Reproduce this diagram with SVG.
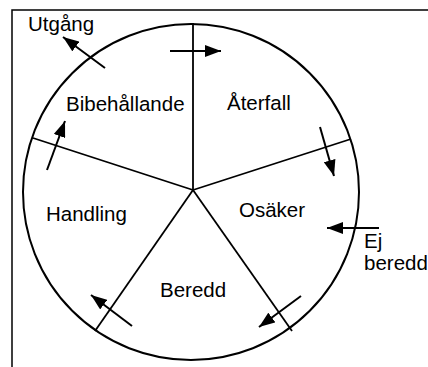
<svg xmlns="http://www.w3.org/2000/svg" width="428" height="367" viewBox="0 0 428 367">
<style>
.t{font-family:"Liberation Sans",Arial,sans-serif;font-size:20.5px;fill:#000}
.a{stroke:#000;stroke-width:2;fill:none;marker-end:url(#ah)}
.s{stroke:#000;stroke-width:1.8;fill:none}
</style>
<defs>
<marker id="ah" markerUnits="userSpaceOnUse" markerWidth="18" markerHeight="12" refX="16" refY="6" orient="auto">
<path d="M0,0 L16,6 L0,12 Z" fill="#000"/>
</marker>
</defs>
<rect x="0" y="0" width="428" height="367" fill="#fff"/>
<rect x="12" y="10" width="440" height="380" fill="none" stroke="#000" stroke-width="1.5"/>
<g id="wheel">
<circle cx="191" cy="192" r="168" fill="none" stroke="#000" stroke-width="2"/>
</g>
<g id="spokes">
<line class="s" x1="193" y1="190" x2="193" y2="23"/>
<line class="s" x1="193" y1="190" x2="351" y2="139"/>
<line class="s" x1="193" y1="190" x2="33" y2="138"/>
<line class="s" x1="193" y1="190" x2="95" y2="331"/>
<line class="s" x1="193" y1="190" x2="292" y2="331"/>
</g>
<g id="connectors">
<line class="a" x1="170" y1="51" x2="221" y2="51"/>
<line class="a" x1="320" y1="127" x2="334" y2="176"/>
<line class="a" x1="379" y1="228" x2="327" y2="228"/>
<line class="a" x1="301" y1="296" x2="259" y2="327"/>
<line class="a" x1="132" y1="326" x2="91" y2="295"/>
<line class="a" x1="47" y1="170" x2="65" y2="121"/>
<line class="a" x1="105" y1="68" x2="63" y2="37"/>
</g>
<g id="utgang"><text class="t" x="28" y="31">Utgång</text></g>
<g id="bibehallande"><text class="t" x="66" y="111">Bibehållande</text></g>
<g id="aterfall"><text class="t" x="227" y="110">Återfall</text></g>
<g id="handling"><text class="t" x="46" y="221">Handling</text></g>
<g id="osaker"><text class="t" x="239" y="217">Osäker</text></g>
<g id="beredd"><text class="t" x="160" y="297">Beredd</text></g>
<g id="ejberedd"><text class="t" x="364" y="248">Ej</text><text class="t" x="364" y="270">beredd</text></g>
</svg>
